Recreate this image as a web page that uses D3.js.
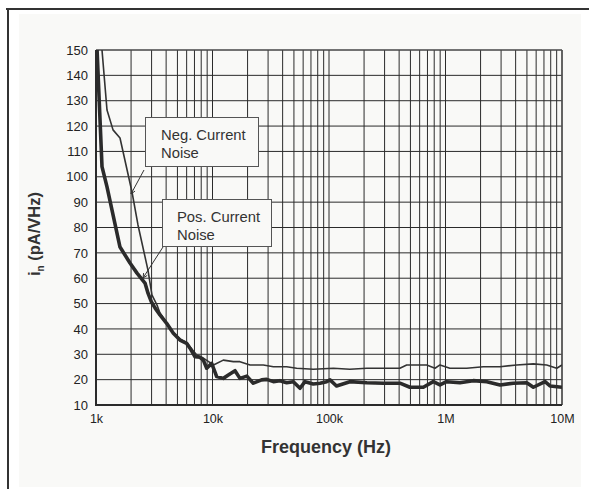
<!DOCTYPE html>
<html>
<head>
<meta charset="utf-8">
<script src="https://cdn.jsdelivr.net/npm/d3@7"></script>
<style>
  html, body { margin: 0; padding: 0; background: #ffffff; }
  svg { display: block; font-family: "Liberation Sans", Arial, Helvetica, sans-serif; }
</style>
</head>
<body>
<svg id="chart" width="589" height="489"></svg>
<script>
// ---------- data ----------
const xTickValues = [1e3, 1e4, 1e5, 1e6, 1e7];
const xTickLabels = ["1k", "10k", "100k", "1M", "10M"];
const yTickValues = [10, 20, 30, 40, 50, 60, 70, 80, 90, 100, 110, 120, 130, 140, 150];

// Neg. Current Noise (thin line): frequency (Hz) / noise (pA/rtHz)
const negFreq = [1126, 1243, 1400, 1607, 2037, 2293, 2793, 3020, 3340, 3540, 4040, 4610, 5260, 6000, 6410, 7320,
  8340, 10200, 12380, 15100, 17200, 21000, 27300, 33300, 43300, 52800, 73300, 109000, 151000, 211000, 293000,
  406000, 464000, 690000, 813000, 897000, 1090000, 1520000, 2110000, 2940000, 4080000, 5680000, 7390000, 9010000, 10000000];
const negVal = [150, 126.3, 118.5, 115.3, 94, 81, 63.2, 53.4, 49.4, 46.3, 42.5, 38.6, 36, 34.6, 33, 29.7,
  28.5, 25.8, 27.7, 27.1, 27.1, 25.8, 25.8, 25.1, 25.1, 24.5, 24.1, 24.5, 24.1, 24.5, 24.5,
  24.5, 25.8, 25.8, 24.5, 25.8, 24.5, 24.5, 25.1, 25.1, 25.8, 26.2, 25.8, 24.5, 25.8];

// Pos. Current Noise (thick line)
const posFreq = [1000, 1126, 1243, 1607, 1958, 2249, 2634, 2800, 3000, 3210, 3540, 4040, 4610, 5260, 6000, 6410,
  7080, 7810, 8340, 8920, 9840, 10860, 12380, 13670, 15600, 17200, 19700, 22400, 26400, 29200, 33300, 37900,
  43300, 49400, 56400, 62200, 73300, 83700, 95500, 102000, 116000, 151000, 211000, 293000, 406000, 495000,
  645000, 785000, 897000, 1020000, 1330000, 1730000, 2260000, 2940000, 3820000, 4980000, 5680000, 7150000,
  7890000, 10000000];
const posVal = [160, 104, 96, 72.3, 66, 62, 58.1, 54, 50.5, 48.3, 45.5, 42.2, 38.3, 35.6, 34.3, 32.4,
  29, 28.8, 27.7, 24.5, 26.4, 21.2, 20.5, 21.8, 23.5, 20.5, 21.4, 18.6, 19.9, 20.1, 19.2, 19.6,
  18.8, 19.2, 16.6, 19.2, 18.3, 18.6, 19.2, 19.9, 17.5, 19.2, 18.8, 18.6, 18.6, 17,
  17, 19.2, 17.9, 19.2, 18.8, 19.6, 19.2, 17.9, 18.6, 18.8, 17, 19.2,
  17.5, 17];

const xTitle = "Frequency  (Hz)";
const yTitleMain = "i";
const yTitleSub = "n";
const yTitleRest = "(pA/VHz)";
const negLabel = ["Neg. Current", "Noise"];
const posLabel = ["Pos. Current", "Noise"];

// ---------- layout ----------
const svg = d3.select("#chart");
const L = 96, R = 562, T = 50, B = 405;
const ink = "#2b2b2b";

// frame & panel
svg.append("rect").attr("x", 0).attr("y", 0).attr("width", 589).attr("height", 489).attr("fill", "#ffffff");
svg.append("rect").attr("x", 19).attr("y", 14).attr("width", 562).attr("height", 473).attr("fill", "#f9f9f7");
svg.append("line").attr("x1", 6).attr("x2", 589).attr("y1", 9).attr("y2", 9).attr("stroke", "#333").attr("stroke-width", 2);
svg.append("line").attr("x1", 8).attr("x2", 8).attr("y1", 8).attr("y2", 489).attr("stroke", "#333").attr("stroke-width", 2);

const x = d3.scaleLog().domain([1e3, 1e7]).range([L, R]);
const y = d3.scaleLinear().domain([10, 150]).range([B, T]);

// grid
const grid = svg.append("g");
const minorX = [];
for (let d = 1e3; d < 1e7; d *= 10) for (let k = 1; k <= 9; k++) minorX.push(d * k);
minorX.push(1e7);
grid.selectAll("line.v").data(minorX).join("line")
  .attr("x1", d => x(d)).attr("x2", d => x(d)).attr("y1", T).attr("y2", B)
  .attr("stroke", ink).attr("stroke-width", 1);
grid.selectAll("line.h").data(yTickValues).join("line")
  .attr("x1", L).attr("x2", R).attr("y1", d => y(d)).attr("y2", d => y(d))
  .attr("stroke", ink).attr("stroke-width", 1);

// axes
const xAxis = d3.axisBottom(x).tickValues(xTickValues)
  .tickFormat((d, i) => xTickLabels[i]).tickSize(0).tickPadding(9);
const gx = svg.append("g").attr("transform", `translate(0,${B})`).call(xAxis);
gx.select(".domain").remove();
gx.selectAll("text").attr("font-size", 12.5).attr("fill", "#222").attr("font-family", "Liberation Sans, Arial, sans-serif");

const yAxis = d3.axisLeft(y).tickValues(yTickValues).tickFormat(d3.format("d")).tickSize(0).tickPadding(8);
const gy = svg.append("g").attr("transform", `translate(${L},0)`).call(yAxis);
gy.select(".domain").remove();
gy.selectAll("text").attr("font-size", 13).attr("fill", "#222").attr("font-family", "Liberation Sans, Arial, sans-serif");

// plot border
svg.append("line").attr("x1", L).attr("x2", R).attr("y1", T).attr("y2", T).attr("stroke", "#555").attr("stroke-width", 1);
svg.append("line").attr("x1", R).attr("x2", R).attr("y1", T).attr("y2", B).attr("stroke", "#555").attr("stroke-width", 1.5);
svg.append("line").attr("x1", L).attr("x2", L).attr("y1", T).attr("y2", B + 1).attr("stroke", "#2b2b2b").attr("stroke-width", 2);
svg.append("line").attr("x1", L - 1).attr("x2", R).attr("y1", B).attr("y2", B).attr("stroke", "#2b2b2b").attr("stroke-width", 2);

// clip
svg.append("clipPath").attr("id", "clip").append("rect")
  .attr("x", L).attr("y", T).attr("width", R - L).attr("height", B - T);

const line = d3.line().x(d => x(d[0])).y(d => y(d[1]));
const negData = negFreq.map((f, i) => [f, negVal[i]]);
const posData = posFreq.map((f, i) => [f, posVal[i]]);

const curves = svg.append("g").attr("clip-path", "url(#clip)");
curves.append("path").datum(negData).attr("d", line)
  .attr("fill", "none").attr("stroke", "#333").attr("stroke-width", 1.6).attr("stroke-linejoin", "round");
curves.append("path").datum(posData).attr("d", line)
  .attr("fill", "none").attr("stroke", "#2b2b2b").attr("stroke-width", 3.6).attr("stroke-linejoin", "round");

// annotations
function annot(box, lines, leader) {
  svg.append("line").attr("x1", leader[0]).attr("y1", leader[1]).attr("x2", leader[2]).attr("y2", leader[3])
    .attr("stroke", "#333").attr("stroke-width", 1);
  const ang = Math.atan2(leader[3] - leader[1], leader[2] - leader[0]);
  const hl = 5, hw = 0.45;
  const p = [
    [leader[2] - hl * Math.cos(ang - hw), leader[3] - hl * Math.sin(ang - hw)],
    [leader[2], leader[3]],
    [leader[2] - hl * Math.cos(ang + hw), leader[3] - hl * Math.sin(ang + hw)]
  ];
  svg.append("path").attr("d", d3.line()(p)).attr("fill", "none").attr("stroke", "#333").attr("stroke-width", 1);
  svg.append("rect").attr("x", box[0]).attr("y", box[1]).attr("width", box[2]).attr("height", box[3])
    .attr("fill", "#f9f9f7").attr("stroke", "#555").attr("stroke-width", 1);
  lines.forEach((t, i) => {
    svg.append("text").attr("x", box[0] + box[4]).attr("y", box[1] + 22 + i * 18.5)
      .attr("font-size", 14.8).attr("fill", "#333").text(t);
  });
}
annot([145.5, 117.5, 113, 49, 15.5], negLabel, [144, 170, 131, 194]);
annot([162.5, 199.5, 109, 47, 14.5], posLabel, [163, 247, 143, 278]);

// titles
svg.append("text").attr("x", 326).attr("y", 453).attr("text-anchor", "middle")
  .attr("font-size", 18).attr("font-weight", "bold").attr("fill", "#333").text(xTitle);

const yt = svg.append("text").attr("transform", "translate(40,234) rotate(-90)").attr("text-anchor", "middle")
  .attr("font-size", 16.5).attr("font-weight", "bold").attr("fill", "#333");
yt.append("tspan").text(yTitleMain);
yt.append("tspan").attr("dy", 4).attr("font-size", 10).text(yTitleSub);
yt.append("tspan").attr("dy", -4).text("  " + yTitleRest);
</script>
</body>
</html>
